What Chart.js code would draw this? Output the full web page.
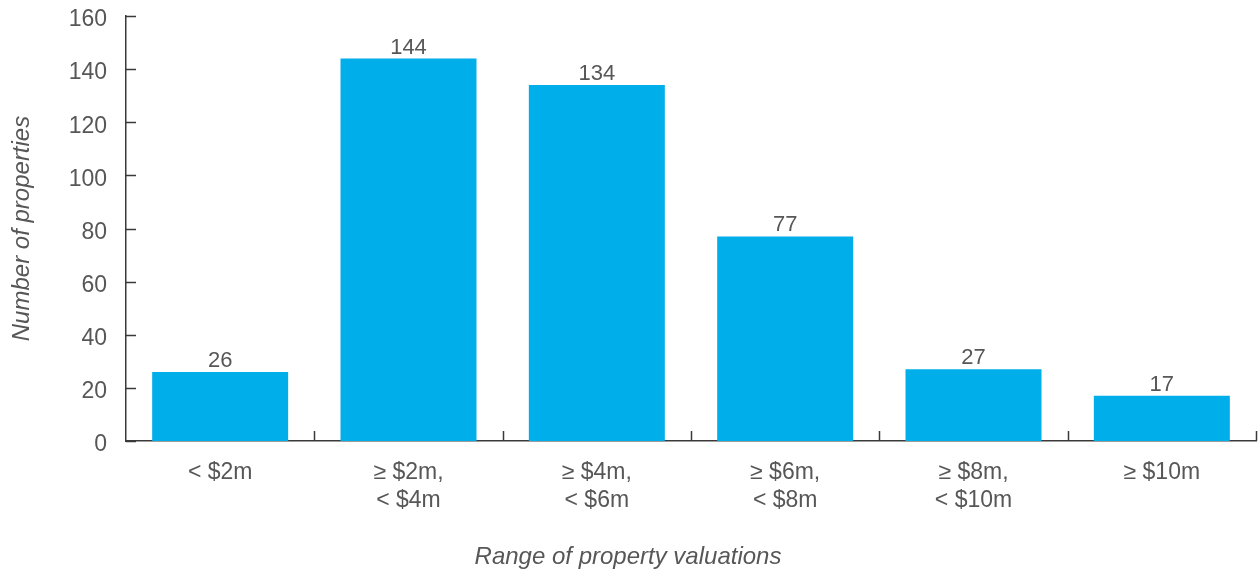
<!DOCTYPE html>
<html>
<head>
<meta charset="utf-8">
<script src="https://cdn.jsdelivr.net/npm/chart.js@4.4.0/dist/chart.umd.min.js"></script>
<style>
  html, body { margin: 0; padding: 0; background: #ffffff; }
  #wrap { width: 1258px; height: 569px; position: relative; }
</style>
</head>
<body>
<div id="wrap"><canvas id="c" width="1258" height="569"></canvas></div>
<script>
const categories = [
  ['< $2m'],
  ['≥ $2m,', '< $4m'],
  ['≥ $4m,', '< $6m'],
  ['≥ $6m,', '< $8m'],
  ['≥ $8m,', '< $10m'],
  ['≥ $10m']
];
const propertyCounts = [26, 144, 134, 77, 27, 17];
const yTickValues = [0, 20, 40, 60, 80, 100, 120, 140, 160];
const xAxisTitle = 'Range of property valuations';
const yAxisTitle = 'Number of properties';

const TEXT = '#575757';
const AXIS = '#3a3a3a';
const FONT = '"Liberation Sans", Arial, Helvetica, sans-serif';

const inwardTicks = {
  id: 'inwardTicks',
  afterDatasetsDraw(chart) {
    const ctx = chart.ctx;
    const xs = chart.scales.x, ys = chart.scales.y;
    const area = chart.chartArea;
    ctx.save();
    ctx.strokeStyle = AXIS;
    ctx.lineWidth = 1.5;
    ctx.beginPath();
    yTickValues.forEach(v => {
      const y = Math.round(ys.getPixelForValue(v)) + 0.5;
      ctx.moveTo(area.left, y);
      ctx.lineTo(area.left + 10, y);
    });
    for (let i = 0; i < categories.length; i++) {
      let x;
      if (i < categories.length - 1) {
        x = (xs.getPixelForValue(i) + xs.getPixelForValue(i + 1)) / 2;
      } else {
        x = area.right;
      }
      x = Math.round(x) + 0.5;
      ctx.moveTo(x, area.bottom);
      ctx.lineTo(x, area.bottom - 10);
    }
    ctx.stroke();
    ctx.restore();
  }
};

const valueLabels = {
  id: 'valueLabels',
  afterDatasetsDraw(chart) {
    const ctx = chart.ctx;
    const meta = chart.getDatasetMeta(0);
    ctx.save();
    ctx.fillStyle = TEXT;
    ctx.font = '22px ' + FONT;
    ctx.textAlign = 'center';
    ctx.textBaseline = 'alphabetic';
    meta.data.forEach((bar, i) => {
      ctx.fillText(String(propertyCounts[i]), bar.x, bar.y - 5);
    });
    ctx.restore();
  }
};

new Chart(document.getElementById('c'), {
  type: 'bar',
  data: {
    labels: categories,
    datasets: [{
      data: propertyCounts,
      backgroundColor: '#00AEE9',
      borderWidth: 0,
      barPercentage: 0.722,
      categoryPercentage: 1.0
    }]
  },
  options: {
    responsive: false,
    animation: false,
    devicePixelRatio: 1,
    layout: { padding: { top: 16, right: 2, left: 0, bottom: 0 } },
    plugins: {
      legend: { display: false },
      tooltip: { enabled: false },
      title: {
        display: true,
        position: 'bottom',
        text: xAxisTitle,
        color: TEXT,
        font: { family: FONT, size: 24, style: 'italic', weight: 'normal', lineHeight: '23px' },
        padding: { top: 0, bottom: 0 }
      }
    },
    scales: {
      x: {
        grid: { display: false, drawTicks: false },
        border: { display: true, color: AXIS, width: 1.5 },
        ticks: {
          color: TEXT,
          font: { family: FONT, size: 23, lineHeight: 1.2 },
          padding: 18,
          maxRotation: 0,
          autoSkip: false
        },
        afterFit(scale) {
          scale.height = 105;
          scale.paddingLeft = 0; scale.paddingRight = 0;
        }
      },
      y: {
        min: 0,
        max: 160,
        grid: { display: false, drawTicks: false },
        border: { display: true, color: AXIS, width: 1.5 },
        afterBuildTicks(scale) { scale.ticks = yTickValues.map(v => ({ value: v })); },
        ticks: {
          color: TEXT,
          font: { family: FONT, size: 23 },
          padding: 19,
          labelOffset: 4
        },
        title: {
          display: true,
          text: yAxisTitle,
          color: TEXT,
          font: { family: FONT, size: 24, style: 'italic' },
          padding: { top: 8, bottom: 0 }
        },
        afterFit(scale) {
          scale.width = 126;
          scale.paddingTop = 0; scale.paddingBottom = 0;
        }
      }
    }
  },
  plugins: [inwardTicks, valueLabels]
});
</script>
</body>
</html>
